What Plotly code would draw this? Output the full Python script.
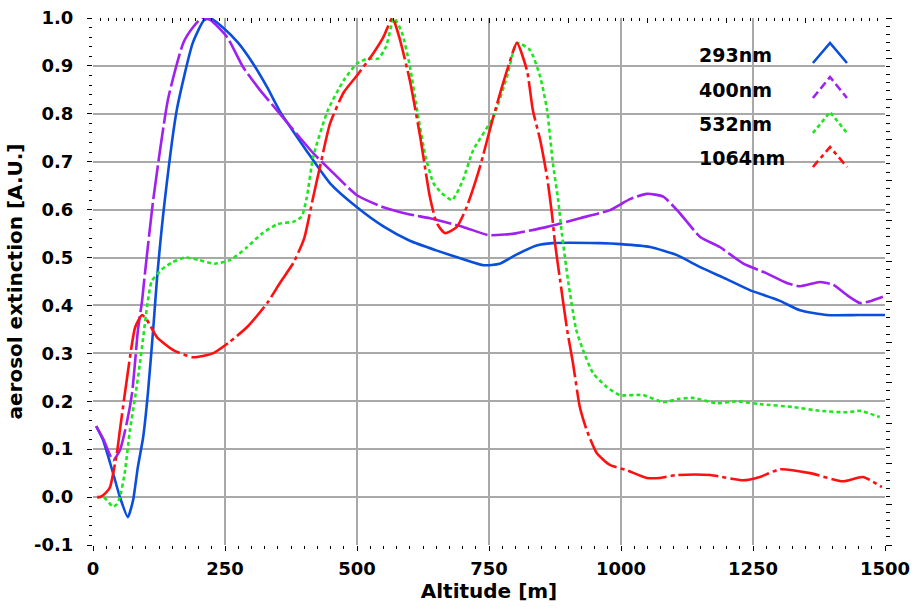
import plotly.graph_objects as go

# ---------------- data ----------------
labels = ["293nm", "400nm", "532nm", "1064nm"]
colors = ["#0a4fdc", "#a020f0", "#1ee61e", "#ff1010"]
dashes = ["solid", "34px,4px", "4px,3px", "40px,4px,4px,4px"]
legend_dashes = ["solid", "8px,4px", "4px,3px", "8px,4px,4px,4px"]

alt_293 = [6, 19, 38, 51, 66, 76, 85, 95, 104, 114, 121, 136, 159, 189, 210, 222, 246, 275, 303,
           330, 354, 380, 405, 449, 500, 550, 600, 650, 700, 740, 770, 800, 840, 870, 960, 1000,
           1055, 1106, 1150, 1200, 1244, 1300, 1339, 1390, 1450, 1500]
ext_293 = [0.148, 0.119, 0.05, 0.0, -0.042, -0.006, 0.063, 0.125, 0.217, 0.35, 0.453, 0.62, 0.81,
           0.948, 0.995, 1.0, 0.98, 0.948, 0.905, 0.855, 0.805, 0.762, 0.722, 0.655, 0.605, 0.565,
           0.535, 0.515, 0.497, 0.484, 0.487, 0.505, 0.525, 0.53, 0.53, 0.528, 0.522, 0.505, 0.48,
           0.455, 0.432, 0.41, 0.39, 0.38, 0.38, 0.38]

alt_400 = [6, 20, 38, 51, 64, 74, 80, 85, 93, 97, 114, 142, 171, 189, 206, 222, 254, 284, 316, 354,
           417, 449, 500, 550, 600, 638, 701, 748, 780, 803, 860, 922, 979, 1017, 1049, 1080, 1111,
           1150, 1187, 1231, 1276, 1314, 1339, 1377, 1402, 1430, 1453, 1475, 1496]
ext_400 = [0.148, 0.12, 0.077, 0.098, 0.155, 0.217, 0.286, 0.348, 0.41, 0.453, 0.62, 0.83, 0.948,
           0.98, 1.0, 0.996, 0.96, 0.898, 0.85, 0.80, 0.718, 0.683, 0.63, 0.605, 0.59, 0.582, 0.564,
           0.547, 0.548, 0.551, 0.564, 0.582, 0.599, 0.622, 0.633, 0.627, 0.593, 0.543, 0.522, 0.488,
           0.467, 0.447, 0.44, 0.449, 0.443, 0.42, 0.405, 0.41, 0.418]

alt_532 = [8, 20, 38, 45, 51, 60, 70, 80, 89, 104, 111, 130, 150, 175, 200, 230, 260, 290, 320, 350,
           380, 395, 405, 417, 445, 475, 500, 520, 540, 555, 570, 585, 600, 615, 630, 645, 660, 680,
           700, 720, 758, 784, 803, 828, 847, 860, 871, 881, 888, 900, 915, 928, 947, 973, 998, 1042,
           1080, 1110, 1136, 1182, 1220, 1263, 1326, 1377, 1428, 1453, 1490]
ext_532 = [0.0, 0.0, -0.02, -0.015, 0.0, 0.05, 0.14, 0.21, 0.28, 0.41, 0.45, 0.475, 0.49, 0.50,
           0.495, 0.487, 0.495, 0.52, 0.55, 0.57, 0.575, 0.585, 0.626, 0.71, 0.808, 0.87, 0.905,
           0.915, 0.915, 0.94, 1.0, 0.97, 0.90, 0.80, 0.71, 0.655, 0.635, 0.62, 0.66, 0.724, 0.793,
           0.877, 0.948, 0.933, 0.877, 0.808, 0.697, 0.62, 0.551, 0.45, 0.35, 0.307, 0.259, 0.23,
           0.213, 0.213, 0.198, 0.205, 0.207, 0.196, 0.20, 0.194, 0.188, 0.18, 0.177, 0.18, 0.167]

alt_1064 = [8, 13, 25, 32, 45, 51, 64, 80, 93, 102, 121, 152, 189, 227, 259, 292, 330, 354, 380, 400,
            417, 430, 449, 475, 500, 530, 550, 567, 580, 600, 620, 638, 651, 667, 689, 708, 733, 758,
            784, 803, 822, 833, 847, 860, 869, 875, 885, 898, 909, 922, 935, 954, 979, 1011, 1049,
            1074, 1106, 1169, 1231, 1263, 1301, 1358, 1420, 1458, 1494]
ext_1064 = [0.0, 0.0, 0.01, 0.02, 0.09, 0.14, 0.245, 0.355, 0.38, 0.37, 0.334, 0.307, 0.292, 0.30,
            0.324, 0.355, 0.405, 0.447, 0.49, 0.54, 0.626, 0.69, 0.78, 0.845, 0.88, 0.925, 0.96, 1.0,
            0.96, 0.87, 0.75, 0.627, 0.572, 0.551, 0.564, 0.606, 0.69, 0.793, 0.89, 0.948, 0.89,
            0.808, 0.745, 0.668, 0.593, 0.53, 0.45, 0.349, 0.28, 0.188, 0.14, 0.092, 0.067, 0.056,
            0.04, 0.04, 0.046, 0.046, 0.035, 0.042, 0.058, 0.05, 0.033, 0.042, 0.021]

x_ticks = [0, 250, 500, 750, 1000, 1250, 1500]
y_ticks = [-0.1, 0.0, 0.1, 0.2, 0.3, 0.4, 0.5, 0.6, 0.7, 0.8, 0.9, 1.0]
y_tick_labels = ["-0.1", "0.0", "0.1", "0.2", "0.3", "0.4", "0.5", "0.6", "0.7", "0.8", "0.9", "1.0"]

series_x = [alt_293, alt_400, alt_532, alt_1064]
series_y = [ext_293, ext_400, ext_532, ext_1064]

FONT = "DejaVu Sans"

fig = go.Figure()
for lab, col, dsh, xs, ys in zip(labels, colors, dashes, series_x, series_y):
    fig.add_trace(go.Scatter(
        x=xs, y=ys, mode="lines", name=lab, showlegend=False,
        line=dict(color=col, width=2.6, dash=dsh, shape="spline", smoothing=0.55),
    ))

# invisible trace so the mirror tick axes (top / right) are drawn
fig.add_trace(go.Scatter(x=[], y=[], xaxis="x2", yaxis="y2", showlegend=False))

grid = "#a9a9a9"
tickfont = dict(size=18, family=FONT, weight="bold", color="black")
fig.update_layout(
    width=914, height=609,
    margin=dict(l=93, r=29, t=18, b=64, autoexpand=False),
    paper_bgcolor="white", plot_bgcolor="white",
    font=dict(family=FONT, color="black"),
    xaxis=dict(
        range=[0, 1500], tickvals=x_ticks, showgrid=True, gridcolor=grid, gridwidth=1.5,
        zeroline=False, showline=False, ticks="outside", ticklen=5, tickcolor="black",
        tickfont=tickfont, ticklabelstandoff=2, automargin=False,
        minor=dict(dtick=25, ticks="outside", ticklen=3, tickcolor="black", showgrid=False),
        title=dict(text="<b>Altitude [m]</b>", font=dict(size=20), standoff=2),
    ),
    yaxis=dict(
        range=[-0.1, 1.0], tickvals=y_ticks, ticktext=y_tick_labels, showgrid=True,
        gridcolor=grid, gridwidth=1.5, zeroline=False, showline=False, ticks="outside",
        ticklen=5, tickcolor="black", tickfont=tickfont, ticklabelstandoff=10, automargin=False,
        minor=dict(dtick=0.02, ticks="outside", ticklen=3, tickcolor="black", showgrid=False),
        title=dict(text="<b>aerosol extinction [A.U.]</b>", font=dict(size=20), standoff=6),
    ),
    xaxis2=dict(
        overlaying="x", side="top", range=[0, 10], dtick=1, showticklabels=False,
        showgrid=False, zeroline=False, showline=False, ticks="inside", ticklen=5,
        tickcolor="black", automargin=False,
        minor=dict(dtick=0.1, ticks="inside", ticklen=3, tickcolor="black"),
    ),
    yaxis2=dict(
        overlaying="y", side="right", range=[0, 13], dtick=1, showticklabels=False,
        showgrid=False, zeroline=False, showline=False, ticks="outside", ticklen=6,
        tickcolor="black", automargin=False,
        minor=dict(dtick=0.2, ticks="outside", ticklen=4, tickcolor="black"),
    ),
)

# custom legend: label text on the left, chevron sample on the right
leg_text_y = [0.9298, 0.8634, 0.7989, 0.7343]
leg_chev_bottom = [0.9146, 0.8482, 0.7818, 0.7173]
leg_chev_top = [0.9526, 0.8880, 0.8216, 0.7552]
for lab, col, dsh, ty, yb, yt in zip(labels, colors, legend_dashes, leg_text_y, leg_chev_bottom, leg_chev_top):
    fig.add_annotation(
        xref="paper", yref="paper", x=0.7626, y=ty, xanchor="left", yanchor="middle",
        text=f"<b>{lab}</b>", showarrow=False, font=dict(size=19, family=FONT, color="black"),
    )
    fig.add_shape(
        type="path", xref="paper", yref="paper",
        path=f"M 0.909,{yb} L 0.9306,{yt} L 0.952,{yb}",
        line=dict(color=col, width=2.6, dash=dsh),
    )

fig.write_html("out.html")
